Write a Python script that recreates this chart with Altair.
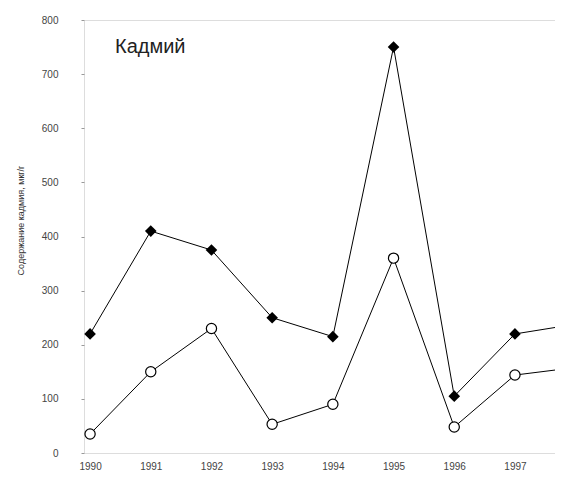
import altair as alt
import pandas as pd

years = [1990, 1991, 1992, 1993, 1994, 1995, 1996, 1997, 1998]
series_a = [220, 410, 375, 250, 215, 750, 105, 220, 238]   # filled diamonds
series_b = [35, 150, 230, 53, 90, 360, 48, 144, 158]       # open circles
y_ticks = [0, 100, 200, 300, 400, 500, 600, 700, 800]
x_ticks = [1990, 1991, 1992, 1993, 1994, 1995, 1996, 1997]
title_text = "Кадмий"
y_title = "Содержание кадмия, мкг/г"

df = pd.DataFrame({
    "year": years * 2,
    "value": series_a + series_b,
    "series": ["A"] * len(years) + ["B"] * len(years),
})
df_a = df[df.series == "A"]
df_b = df[df.series == "B"]

x = alt.X("year:Q", scale=alt.Scale(domain=[1989.9, 1997.66], nice=False, zero=False),
          axis=alt.Axis(values=x_ticks, format="d", title=None, domain=False, ticks=False,
                        grid=False, labelPadding=8, labelFontSize=10, labelColor="#444",
                        labelFont="Liberation Sans"))
y = alt.Y("value:Q", scale=alt.Scale(domain=[0, 800], nice=False),
          axis=alt.Axis(values=y_ticks, title=y_title, domain=False, tickSize=3,
                        tickColor="#999", grid=False, labelPadding=23, labelFontSize=10,
                        labelColor="#444", labelFont="Liberation Sans",
                        titleFontSize=9, titleFont="Liberation Sans", titleColor="#333",
                        titleFontWeight="normal", titlePadding=16, titleY=200))

base_a = alt.Chart(df_a).encode(x=x, y=y)
base_b = alt.Chart(df_b).encode(x=x, y=y)

line_a = base_a.mark_line(color="black", strokeWidth=1, clip=True)
line_b = base_b.mark_line(color="black", strokeWidth=1, clip=True)
pts_a = base_a.mark_point(shape="diamond", filled=True, color="black", size=135, opacity=1, clip=True)
pts_b = base_b.mark_point(shape="circle", filled=True, fill="white", stroke="black",
                          strokeWidth=1.2, size=105, opacity=1, clip=True)

title = alt.Chart(pd.DataFrame({"t": [title_text]})).mark_text(
    align="left", baseline="alphabetic", fontSize=20, font="Liberation Sans", color="#222"
).encode(text="t:N", x=alt.value(31), y=alt.value(33))

chart = alt.layer(line_b, line_a, pts_b, pts_a, title).properties(
    width=471, height=433,
    autosize=alt.AutoSizeParams(type="none"),
    padding={"left": 76, "top": 12, "right": 0, "bottom": 20},
).configure_view(stroke=None).configure(background="white")

chart.save("out.html", embed_options={"renderer": "svg", "actions": False})
